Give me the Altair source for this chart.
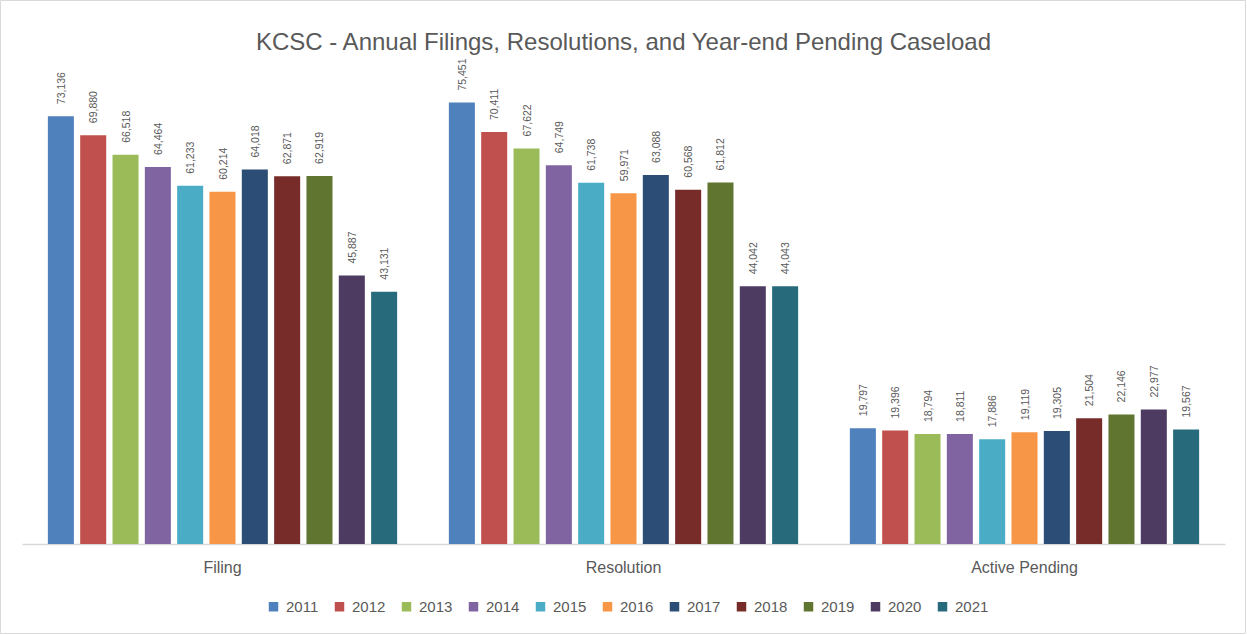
import altair as alt
import pandas as pd

categories = ["Filing", "Resolution", "Active Pending"]
years = ["2011", "2012", "2013", "2014", "2015", "2016", "2017", "2018", "2019", "2020", "2021"]
filing = [73136, 69880, 66518, 64464, 61233, 60214, 64018, 62871, 62919, 45887, 43131]
resolution = [75451, 70411, 67622, 64749, 61738, 59971, 63088, 60568, 61812, 44042, 44043]
active_pending = [19797, 19396, 18794, 18811, 17886, 19119, 19305, 21504, 22146, 22977, 19567]
colors = ["#4F81BD", "#C0504D", "#9BBB59", "#8064A2", "#4BACC6", "#F79646",
          "#2C4D75", "#772C2A", "#5F7530", "#4D3B62", "#276A7C"]
title_text = "KCSC - Annual Filings, Resolutions, and Year-end Pending Caseload"

rows = []
for cat, vals in zip(categories, [filing, resolution, active_pending]):
    for y, v in zip(years, vals):
        rows.append({"category": cat, "year": y, "value": v})
df = pd.DataFrame(rows)

W, H = 1203, 468
PL, PT = 22, 76
TEXT = "#595959"
FONT = "Liberation Sans"

x_enc = alt.X("category:N", sort=categories,
              scale=alt.Scale(paddingInner=0, paddingOuter=0),
              axis=alt.Axis(title=None, labelAngle=0, ticks=False, domainColor="#d9d9d9",
                            domainWidth=1.5, labelFontSize=16, labelColor=TEXT,
                            labelPadding=15, labelFont=FONT))
xo_enc = alt.XOffset("year:N", sort=years,
                     scale=alt.Scale(paddingInner=0.195, paddingOuter=0.8))
y_enc = alt.Y("value:Q", scale=alt.Scale(domain=[0, 80000]), axis=None)

base = alt.Chart(df)

bars = base.mark_bar().encode(
    x=x_enc, xOffset=xo_enc, y=y_enc,
    color=alt.Color("year:N", sort=years,
                    scale=alt.Scale(domain=years, range=colors),
                    legend=alt.Legend(title=None, orient="none", legendX=244, legendY=523,
                                      direction="horizontal", columns=11,
                                      symbolType="square", symbolSize=90,
                                      symbolStrokeWidth=0, labelFontSize=15,
                                      labelColor=TEXT, labelFont=FONT,
                                      columnPadding=13, labelOffset=5, padding=0)),
)

labels = base.mark_text(angle=270, align="left", baseline="middle", dx=12, dy=1,
                        fontSize=10.5, color=TEXT, font=FONT).encode(
    x=x_enc, xOffset=xo_enc, y=y_enc,
    text=alt.Text("value:Q", format=","),
)

title = alt.Chart(alt.Data(values=[{}])).mark_text(
    fontSize=24, font=FONT, color=TEXT, align="center", baseline="middle").encode(
    x=alt.value(W / 2), y=alt.value(43 - PT), text=alt.value(title_text),
)

frame = alt.Chart(alt.Data(values=[{}])).mark_rect(
    fill=None, stroke="#d9d9d9", strokeWidth=1).encode(
    x=alt.value(-PL + 0.5), x2=alt.value(1247 - PL - 1.5),
    y=alt.value(-PT + 0.5), y2=alt.value(635 - PT - 1.5),
)

chart = alt.layer(bars, labels, title, frame).properties(
    width=W, height=H,
    background="white",
    autosize=alt.AutoSizeParams(type="none"),
    padding={"left": PL, "top": PT, "right": 1247 - PL - W, "bottom": 635 - PT - H},
).configure_view(stroke=None)

chart.save("out.html", embed_options={"renderer": "svg", "actions": False})
